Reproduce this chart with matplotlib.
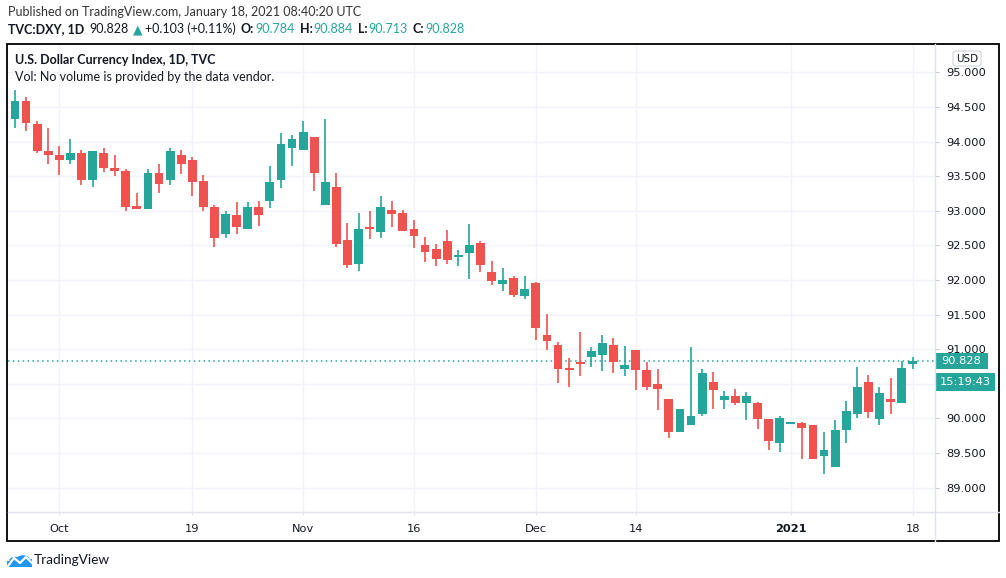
import matplotlib
matplotlib.use("Agg")
import matplotlib.pyplot as plt
from matplotlib.patches import Rectangle, FancyBboxPatch, Circle, Polygon

W, H = 1006, 578

# daily bars, index 0 = Oct 1 2020, every weekday
bar_index = list(range(-5, 78))
opens = [94.38, 94.32, 94.59, 94.26, 93.86, 93.81, 93.73, 93.83, 93.44, 93.84,
         93.62, 93.58, 93.07, 93.03, 93.55, 93.44, 93.81, 93.74, 93.43, 93.06,
         92.67, 92.94, 92.74, 93.06, 93.145, 93.45, 93.91, 93.88, 94.06, 93.09,
         93.35, 92.58, 92.23, 92.77, 92.70, 93.01, 92.97, 92.74, 92.51, 92.45,
         92.57, 92.33, 92.39, 92.54, 92.12, 91.94, 92.03, 91.77, 91.96, 91.20,
         91.06, 90.72, 90.81, 90.88, 90.91, 91.06, 90.72, 90.99, 90.70, 90.49,
         90.28, 89.81, 89.91, 90.07, 90.52, 90.26, 90.33, 90.22, 90.22, 89.99,
         89.65, 89.92, 89.93, 89.90, 89.46, 89.30, 89.83, 90.06, 90.52, 89.99,
         90.28, 90.22, 90.784]
highs = [94.40, 94.75, 94.65, 94.30, 94.20, 93.93, 94.04, 93.88, 93.87, 93.91,
         93.80, 93.60, 93.25, 93.61, 93.68, 93.91, 93.88, 93.78, 93.51, 93.09,
         92.99, 93.13, 93.13, 93.14, 93.65, 94.12, 94.09, 94.30, 94.06, 94.32,
         93.55, 92.83, 92.97, 92.99, 93.22, 93.14, 93.01, 92.86, 92.62, 92.52,
         92.72, 92.43, 92.81, 92.57, 92.28, 92.17, 92.06, 92.06, 91.97, 91.51,
         91.10, 90.87, 91.25, 91.03, 91.20, 91.16, 91.04, 90.99, 90.81, 90.71,
         90.28, 90.13, 91.03, 90.72, 90.67, 90.39, 90.42, 90.38, 90.23, 89.99,
         90.04, 89.94, 89.95, 89.90, 89.80, 89.97, 90.25, 90.74, 90.62, 90.45,
         90.58, 90.83, 90.884]
lows = [94.32, 94.19, 94.15, 93.83, 93.67, 93.52, 93.68, 93.37, 93.34, 93.56,
        93.50, 93.00, 93.03, 93.03, 93.25, 93.37, 93.53, 93.21, 92.99, 92.47,
        92.61, 92.66, 92.74, 92.78, 93.04, 93.33, 93.65, 93.88, 93.29, 93.09,
        92.48, 92.17, 92.13, 92.59, 92.61, 92.77, 92.71, 92.46, 92.26, 92.20,
        92.23, 92.20, 92.01, 92.12, 91.93, 91.84, 91.75, 91.72, 91.14, 90.99,
        90.51, 90.46, 90.61, 90.74, 90.68, 90.65, 90.61, 90.41, 90.41, 90.12,
        89.71, 89.81, 89.91, 90.04, 90.14, 90.14, 90.20, 89.97, 89.84, 89.55,
        89.51, 89.92, 89.41, 89.42, 89.19, 89.30, 89.65, 90.01, 90.01, 89.91,
        90.06, 90.22, 90.713]
closes = [94.34, 94.59, 94.27, 93.87, 93.81, 93.73, 93.83, 93.45, 93.86, 93.62,
          93.57, 93.06, 93.03, 93.54, 93.38, 93.87, 93.68, 93.42, 93.06, 92.61,
          92.96, 92.77, 93.06, 92.94, 93.42, 93.97, 94.04, 94.14, 93.55, 93.42,
          92.52, 92.22, 92.74, 92.74, 93.06, 92.96, 92.71, 92.64, 92.41, 92.30,
          92.29, 92.36, 92.51, 92.22, 91.99, 92.00, 91.78, 91.87, 91.30, 91.12,
          90.71, 90.70, 90.78, 90.97, 91.09, 90.81, 90.77, 90.70, 90.46, 90.43,
          89.81, 90.13, 90.04, 90.65, 90.41, 90.33, 90.22, 90.33, 89.99, 89.67,
          90.00, 89.93, 89.86, 89.42, 89.54, 89.83, 90.10, 90.46, 90.09, 90.36,
          90.23, 90.725, 90.828]

tick_pos = [0, 12, 22, 32, 43, 52, 66, 77]
tick_text = ["Oct", "19", "Nov", "16", "Dec", "14", "2021", "18"]
price_ticks = [89.0, 89.5, 90.0, 90.5, 91.0, 91.5, 92.0, 92.5, 93.0, 93.5, 94.0, 94.5, 95.0]
last_price = 90.828
countdown = "15:19:43"

UP = "#26a69a"
DOWN = "#ef5350"
TXT = "#131722"
GRID = "#f0f3fa"
LINE = "#e0e3eb"
FS = 9.0

plt.rcParams['font.family'] = ['Lato', 'DejaVu Sans']

fig = plt.figure(figsize=(W / 100, H / 100), dpi=100)


def fx(x):
    return x / W


def fy(y):
    return 1 - y / H


# plot area in pixels
L, R, T, B = 8, 935, 44, 512
ax = fig.add_axes([fx(L), fy(B), (R - L) / W, (B - T) / H])
ax.set_xlim(-4.63, 79.01)
ax.set_ylim(88.648, 95.409)
for s in ax.spines.values():
    s.set_visible(False)

# the 90.500 label sits under the countdown box, so it is left blank
ylabels = ["" if p == 90.5 else f"{p:.3f}" for p in price_ticks]
ax.set_yticks(price_ticks)
ax.set_yticklabels(ylabels, family="DejaVu Sans")
ax.yaxis.tick_right()
ax.tick_params(axis="y", length=3, width=0.8, color="#c9ccd4", pad=5,
               labelsize=8.2, labelcolor=TXT)
ax.set_xticks(tick_pos)
ax.set_xticklabels(tick_text, family="DejaVu Sans")
ax.tick_params(axis="x", length=2, width=0.8, color=LINE, pad=7,
               labelsize=8.2, labelcolor=TXT)
for lab in ax.get_xticklabels():
    if lab.get_text() == "2021":
        lab.set_fontweight("bold")
ax.grid(True, color=GRID, lw=1)
ax.set_axisbelow(True)

# candles
for i, o, h, l, c in zip(bar_index, opens, highs, lows, closes):
    col = UP if c >= o else DOWN
    ax.vlines(i, l, h, color=col, lw=1.2, zorder=2)
    body = max(abs(c - o), 0.025)
    ax.bar(i, body, bottom=min(o, c), width=0.8, color=col, lw=0, zorder=3)

ax.axhline(last_price, color=UP, lw=1.1, ls=(0, (1, 2.2)), zorder=1)

# axis divider lines and outer frame
fig.add_artist(plt.Line2D([fx(L), fx(999)], [fy(512), fy(512)], color=LINE, lw=1))
fig.add_artist(plt.Line2D([fx(935), fx(935)], [fy(T), fy(541)], color=LINE, lw=1))
fig.add_artist(Rectangle((fx(7), fy(541)), (999 - 7) / W, (541 - T) / H,
                         fill=False, ec="black", lw=1.3, transform=fig.transFigure))

# price labels on the axis
ypix = 487.7 - (last_price - 89) * 69.08
fig.add_artist(Rectangle((fx(935), fy(ypix + 8)), 53 / W, 16 / H, fc=UP, ec="none",
                         transform=fig.transFigure))
fig.text(fx(961.5), fy(ypix), f"{last_price:.3f}", color="white", fontsize=8.2,
         family="DejaVu Sans", ha="center", va="center")
fig.add_artist(Rectangle((fx(936), fy(ypix + 30)), 59 / W, 18 / H, fc=UP, ec="none",
                         transform=fig.transFigure))
fig.text(fx(965.5), fy(ypix + 21), countdown, color="white", fontsize=8.2,
         family="DejaVu Sans", ha="center", va="center")

# USD box
fig.add_artist(FancyBboxPatch((fx(953), fy(66)), 28 / W, 15 / H,
                              boxstyle="round,pad=0,rounding_size=0.004",
                              fc="white", ec="#d1d4dc", lw=0.8,
                              transform=fig.transFigure))
fig.text(fx(967), fy(58.5), "USD", color=TXT, fontsize=7.5, family="DejaVu Sans",
         ha="center", va="center")

# header texts
fig.text(fx(8), fy(12), "Published on TradingView.com, January 18, 2021 08:40:20 UTC",
         color="#333333", fontsize=FS, ha="left", va="center")

renderer = fig.canvas.get_renderer()


def write_row(x, y, parts):
    for text, col, weight, gap in parts:
        t = fig.text(fx(x), fy(y), text, color=col, fontsize=FS, fontweight=weight,
                     ha="left", va="center")
        x += t.get_window_extent(renderer).width + gap


write_row(8, 29, [
    ("TVC:DXY, 1D", TXT, "bold", 5),
    ("90.828", TXT, "normal", 4),
    ("\u25b2", UP, "normal", 3),
    ("+0.103 (+0.11%)", TXT, "normal", 5),
    ("O:", TXT, "bold", 1), ("90.784", UP, "normal", 5),
    ("H:", TXT, "bold", 1), ("90.884", UP, "normal", 5),
    ("L:", TXT, "bold", 1), ("90.713", UP, "normal", 5),
    ("C:", TXT, "bold", 1), ("90.828", UP, "normal", 0),
])

fig.text(fx(15), fy(60), "U.S. Dollar Currency Index, 1D, TVC", color=TXT,
         fontsize=FS, fontweight="bold", ha="left", va="center")
fig.text(fx(15), fy(77), "Vol: No volume is provided by the data vendor.", color=TXT,
         fontsize=FS, ha="left", va="center")

# TradingView logo
LOGO = "#2196f3"
fig.add_artist(Circle((fx(15), fy(560)), 5.5 / W, fc=LOGO, ec="none",
                      transform=fig.transFigure))
fig.add_artist(Circle((fx(23), fy(559)), 6.5 / W, fc=LOGO, ec="none",
                      transform=fig.transFigure))
fig.add_artist(Polygon([(fx(7), fy(567)), (fx(32), fy(567)), (fx(32), fy(559)),
                        (fx(7), fy(561))], closed=True, fc=LOGO, ec="none",
                       transform=fig.transFigure))
fig.add_artist(plt.Line2D([fx(8), fx(14), fx(20), fx(26), fx(32)],
                          [fy(566), fy(558), fy(563), fy(557), fy(563)],
                          color="white", lw=1.6))
fig.text(fx(34), fy(560), "TradingView", color=TXT, fontsize=9.8,
         ha="left", va="center")

fig.savefig("out.png", dpi=100)
